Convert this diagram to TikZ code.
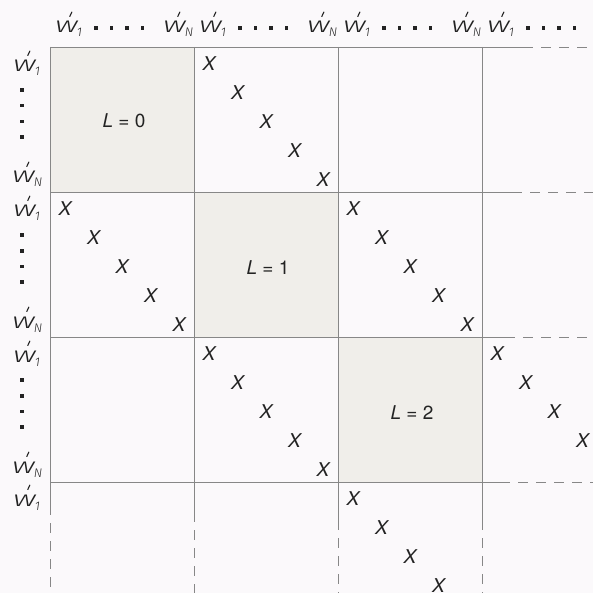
\documentclass[tikz,border=0pt]{standalone}
\usepackage{fontspec}
\setmainfont{TeX Gyre Heros}
\newfontfamily\wfont{Fira Sans Light}[ItalicFont={Fira Sans Light Italic}]
\definecolor{bg}{RGB}{251,249,251}
\definecolor{cellc}{RGB}{240,238,234}
\definecolor{gridc}{RGB}{135,135,135}
\definecolor{ink}{RGB}{35,35,35}
\newcommand{\wl}[1]{{\wfont\fontsize{22}{22}\selectfont\itshape\scalebox{1.5}[1]{w}\kern-9pt\raisebox{16.5pt}{\rotatebox{-25}{\rule{1.1pt}{5.5pt}}}\kern4.5pt\raisebox{-4pt}{\fontsize{12.5}{12.5}\selectfont #1}}}
\begin{document}
\begin{tikzpicture}[x=1pt,y=-1pt,
  gl/.style={draw=gridc,line width=0.8pt},
  gld/.style={gl,dash pattern=on 10pt off 8pt},
  xm/.style={inner sep=0pt,text=ink,font=\fontsize{19}{19}\selectfont\itshape},
  lab/.style={inner sep=0pt,text=ink},
  dotsq/.style={rectangle,fill=ink,minimum size=3.6pt,inner sep=0pt},
  blab/.style={inner sep=0pt,text=ink,font=\fontsize{19}{19}\selectfont}]
\fill[bg] (0,0) rectangle (593,593);
\useasboundingbox (0,0) rectangle (593,593);
% shaded diagonal blocks
\fill[cellc] (50,47) rectangle (194,192);
\fill[cellc] (194,192) rectangle (338,337);
\fill[cellc] (338,337) rectangle (482,482);
\node[blab] (L0) at (124,121) {\textit{L} = 0};
\node[blab] (L1) at (268,268) {\textit{L} = 1};
\node[blab] (L2) at (412,413) {\textit{L} = 2};
% grid lines
\draw[gl] (50,47) -- (523,47);  \draw[gld] (523,47) -- (593,47);
\draw[gl] (50,192) -- (512,192); \draw[gld] (512,192) -- (593,192);
\draw[gl] (50,337) -- (505,337); \draw[gld] (505,337) -- (593,337);
\draw[gl] (50,482) -- (500,482); \draw[gld] (500,482) -- (593,482);
\draw[gl] (50,47) -- (50,505);   \draw[gld] (50,505) -- (50,593);
\draw[gl] (194,47) -- (194,512); \draw[gld] (194,512) -- (194,593);
\draw[gl] (338,47) -- (338,520); \draw[gld] (338,520) -- (338,593);
\draw[gl] (482,47) -- (482,520); \draw[gld] (482,520) -- (482,593);
% X marks
\foreach \bx/\by/\n/\nm in {194/47/4/a,50/192/4/b,338/192/4/c,194/337/4/d,482/337/3/e,338/482/3/f}{
  \foreach \k in {0,...,\n}{
    \node[xm] (x\nm\k) at ({\bx+15+28.5*\k},{\by+17+29*\k}) {X};
  }
}
% top labels
\foreach \bx/\nm in {50/a,194/b,338/c,482/d}{
  \node[lab,anchor=base west] (t1\nm) at (\bx+5,33) {\wl{1}};
  \foreach \j in {0,...,3}{
    \node[dotsq] (td\nm\j) at ({\bx+46+15.5*\j},28) {};
  }
}
\foreach \bx/\nm in {50/a,194/b,338/c}{
  \node[lab,anchor=base west] (tN\nm) at (\bx+113,33) {\wl{\textit{N}}};
}
% left labels
\foreach \by/\nm in {47/a,192/b,337/c}{
  \node[lab,anchor=base west] (l1\nm) at (13,\by+25) {\wl{1}};
  \foreach \j in {0,...,3}{
    \node[dotsq] (ld\nm\j) at (22,{\by+43+15.7*\j}) {};
  }
  \node[lab,anchor=base west] (lN\nm) at (12,\by+136) {\wl{\textit{N}}};
}
\node[lab,anchor=base west] (l1d) at (13,506) {\wl{1}};
\end{tikzpicture}
\end{document}
